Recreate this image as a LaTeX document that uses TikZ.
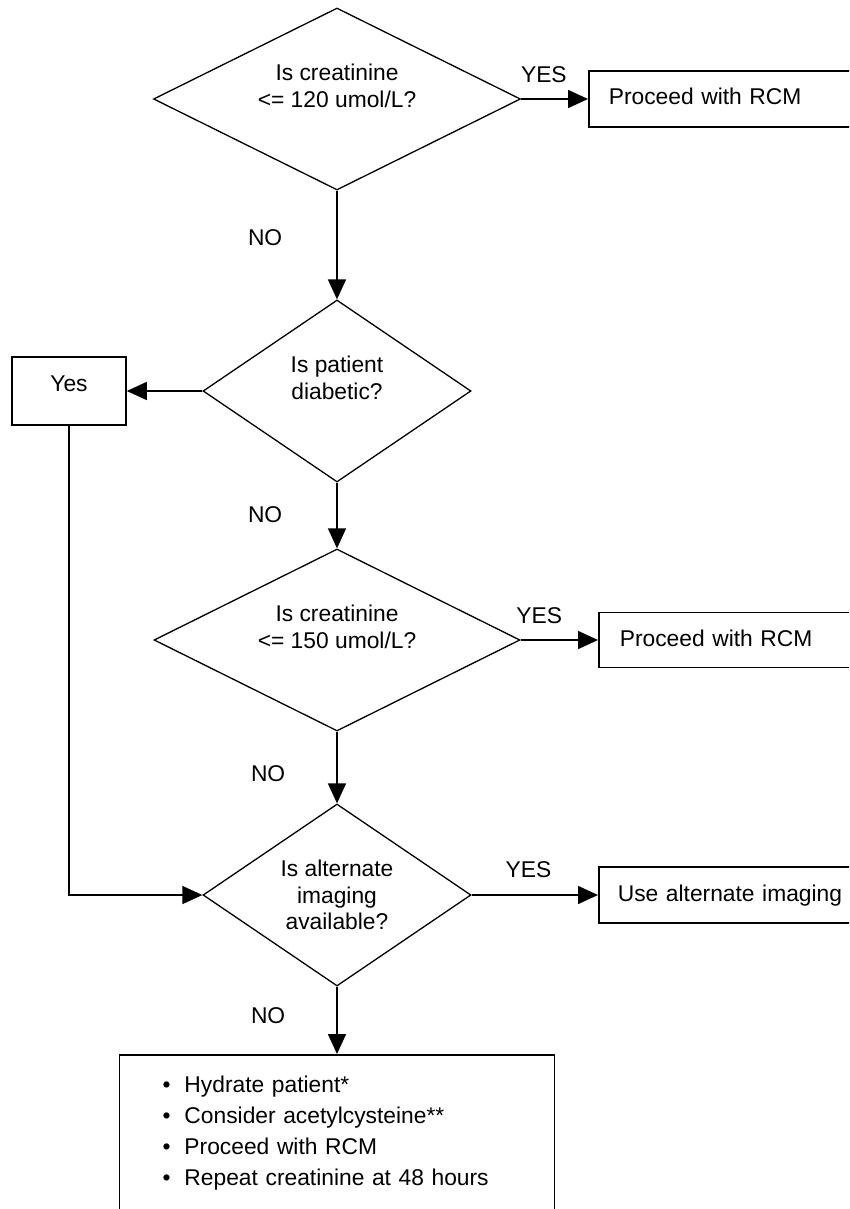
\documentclass[tikz,border=0pt]{standalone}
\usepackage{fontspec}
\setmainfont{Liberation Sans}
\usetikzlibrary{shapes.geometric,arrows.meta}

\begin{document}
\begin{tikzpicture}[x=1pt, y=-1pt, >={Triangle[length=20pt,width=18pt]},
    every node/.style={font=\fontsize{22.8}{26.5}\selectfont},
    dec/.style={diamond, draw, line width=1.3pt, inner sep=0pt},
    box/.style={rectangle, draw, line width=1.6pt, text height=17pt, text depth=5pt},
    lbl/.style={inner sep=0pt},
    flow/.style={->, line width=1.6pt}]
    % bullet for the last box
    \def\bul{\makebox[22pt][l]{\textbullet}}

    \useasboundingbox (0,0) rectangle (849,1209);
    \clip (0,0) rectangle (849,1209);

    % --- decisions ---
    \node (q1) [dec, minimum width=367pt, minimum height=182pt] at (337,99) {};
    \node (q2) [dec, minimum width=268pt, minimum height=182pt] at (337,391) {};
    \node (q3) [dec, minimum width=366pt, minimum height=182pt] at (337,640) {};
    \node (q4) [dec, minimum width=268pt, minimum height=182pt] at (337,895) {};
    \node (q1t) [align=center] at ([yshift=13pt]q1.center) {Is creatinine\\<= 120 umol/L?};
    \node (q2t) [align=center] at ([yshift=13pt]q2.center) {Is patient\\diabetic?};
    \node (q3t) [align=center] at ([yshift=13pt]q3.center) {Is creatinine\\<= 150 umol/L?};
    \node (q4t) [align=center] at (q4.center) {Is alternate\\imaging\\available?};

    % --- outcome boxes ---
    \node (r1) [box, anchor=west, minimum height=56pt, text width=262pt, inner xsep=20pt, align=left] at (588,99) {Proceed with RCM};
    \node (r2) [box, minimum width=114pt, minimum height=68pt, text depth=17pt] at (69,391) {Yes};
    \node (r3) [box, anchor=west, minimum height=55pt, text width=262pt, inner xsep=21pt, align=left] at (598,640) {Proceed with RCM};
    \node (r4) [box, anchor=west, minimum height=56pt, text width=262pt, inner xsep=19pt, align=left] at (598,895) {Use alternate imaging};
    \node (r5) [box, anchor=north, text width=349pt, inner xsep=43pt, inner ysep=21pt, align=left, text depth=150pt,
        font=\fontsize{22.8}{31}\selectfont] at (337,1054)
        {\bul Hydrate patient*\\\bul Consider acetylcysteine**\\\bul Proceed with RCM\\\bul Repeat creatinine at 48 hours};

    % --- connectors ---
    \draw[flow] (q1.east) -- (r1.west) node[lbl, pos=0.34, above=15pt] {YES};
    \draw[flow] (q1.south) -- (q2.north) node[lbl, pos=0.43, left=54pt] {NO};
    \draw[flow] (q2.west) -- (r2.east);
    \draw[flow] (q2.south) -- (q3.north) node[lbl, pos=0.49, left=54pt] {NO};
    \draw[flow] (q3.east) -- (r3.west) node[lbl, pos=0.24, above=15pt] {YES};
    \draw[flow] (q3.south) -- (q4.north) node[lbl, pos=0.58, left=51pt] {NO};
    \draw[flow] (r2.south) |- (q4.west);
    \draw[flow] (q4.east) -- (r4.west) node[lbl, pos=0.45, above=16pt] {YES};
    \draw[flow] (q4.south) -- (r5.north) node[lbl, pos=0.43, left=51pt] {NO};
\end{tikzpicture}
\end{document}
